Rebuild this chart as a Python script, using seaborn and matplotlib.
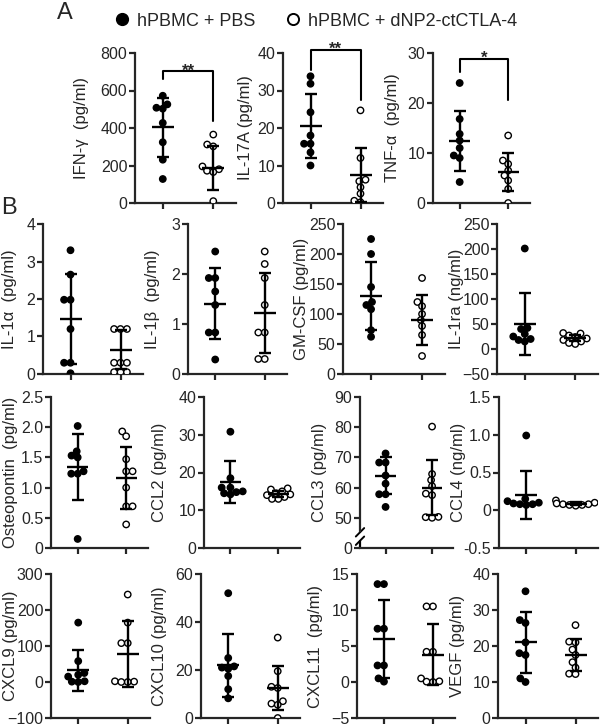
import matplotlib
matplotlib.use("Agg")
import matplotlib.pyplot as plt
import seaborn as sns
import pandas as pd
from matplotlib.lines import Line2D

# Cytokine levels: hPBMC + PBS vs hPBMC + dNP2-ctCTLA-4

groups = ['hPBMC + PBS', 'hPBMC + dNP2-ctCTLA-4']

# Panel A
ifng_pbs = [572, 526, 508, 503, 427, 324, 231, 128]
ifng_np2 = [365, 312, 302, 195, 180, 172, 165, 10]
ifng_mean = [403, 188]
ifng_sd = [156, 118]
ifng_sig = [664, 705, 437]

il17a_pbs = [33.8, 31.8, 24.2, 18, 15.8, 15.8, 13.5, 10]
il17a_np2 = [24.7, 12, 6.2, 5.8, 4.2, 2.5, 0.6, 0.2]
il17a_mean = [20.5, 7.5]
il17a_sd = [8.5, 7.2]
il17a_sig = [35.4, 40.9, 27.5]

tnfa_pbs = [24, 16.8, 13.8, 12.5, 11, 9.5, 9, 4.2]
tnfa_np2 = [13.5, 8.5, 7.8, 6.5, 5.5, 4.5, 2.8, 0]
tnfa_mean = [12.4, 6.2]
tnfa_sd = [6.0, 3.8]
tnfa_sig = [26.2, 28.9, 20.7]

# Panel B
il1a_pbs = [3.3, 2.65, 1.98, 1.98, 1.2, 0.3, 0.3, 0.02]
il1a_np2 = [1.2, 1.2, 1.2, 0.3, 0.3, 0.3, 0.05, 0.05, 0.05]
il1a_mean = [1.47, 0.65]
il1a_sd = [1.21, 0.51]

il1b_pbs = [2.45, 1.92, 1.92, 1.65, 1.38, 0.83, 0.83, 0.29]
il1b_np2 = [2.45, 2.2, 1.92, 1.38, 0.83, 0.83, 0.3, 0.3]
il1b_mean = [1.41, 1.22]
il1b_sd = [0.71, 0.81]

gmcsf_pbs = [225, 200, 145, 120, 115, 108, 73, 62]
gmcsf_np2 = [160, 120, 113, 100, 90, 80, 65, 30]
gmcsf_mean = [130, 90]
gmcsf_sd = [57, 41]

il1ra_pbs = [201, 42, 40, 30, 25, 20, 18, 15]
il1ra_np2 = [32, 31, 27, 24, 21, 18, 15, 12, 10]
il1ra_mean = [50, 22]
il1ra_sd = [62, 6]

opn_pbs = [2.02, 1.6, 1.53, 1.5, 1.27, 1.23, 1.23, 0.15]
opn_np2 = [1.93, 1.85, 1.47, 1.27, 1.27, 1.0, 0.69, 0.69, 0.39]
opn_mean = [1.34, 1.16]
opn_sd = [0.54, 0.52]

ccl2_pbs = [30.8, 18.5, 16, 16, 15, 14.8, 14.5, 14.2]
ccl2_np2 = [15.8, 15.5, 15, 14.5, 14.2, 14, 13.5, 13, 13]
ccl2_mean = [17.5, 14.3]
ccl2_sd = [5.6, 0.9]

ccl3_pbs = [71.3, 68.3, 68.3, 64, 61.3, 57.8, 57.8, 53.6]
ccl3_np2 = [80.2, 64.5, 62.5, 60.5, 58, 57.5, 50.3, 50.2, 50]
ccl3_mean = [63.9, 60]
ccl3_sd = [6.1, 9.2]

ccl4_pbs = [0.99, 0.15, 0.12, 0.1, 0.09, 0.08, 0.08, 0.07]
ccl4_np2 = [0.13, 0.1, 0.09, 0.08, 0.08, 0.07, 0.07, 0.06]
ccl4_mean = [0.2, 0.085]
ccl4_sd = [0.32, 0.02]

cxcl9_pbs = [165, 58, 25, 20, 15, 2, 1, 0]
cxcl9_np2 = [243, 165, 108, 108, 2, 1, 0, 0]
cxcl9_mean = [33, 78]
cxcl9_sd = [57, 92]

cxcl10_pbs = [52, 25, 21.5, 21, 20.5, 17.5, 12, 8.2]
cxcl10_np2 = [33.5, 19.5, 13, 12.5, 7, 6, 5.5, 0]
cxcl10_mean = [22, 12.5]
cxcl10_sd = [13.2, 9.2]

cxcl11_pbs = [13.6, 13.6, 7.4, 7.4, 2.3, 2.3, 0.5, 0.05]
cxcl11_np2 = [10.5, 10.5, 4.2, 4.2, 0.5, 0.1, 0.05, 0]
cxcl11_mean = [6, 3.8]
cxcl11_sd = [5.4, 4.2]

vegf_pbs = [35.2, 27.2, 26.4, 21, 18, 17.5, 11, 10]
vegf_np2 = [25.8, 21.2, 21, 19, 17.5, 15.5, 14, 12.3, 12.2]
vegf_mean = [21, 17.5]
vegf_sd = [8.5, 4.5]

# label, data, ticks, tick labels, significance,
# axes box in pixels (left, right, top, bottom, right edge of y-label)
panels = [
    ('IFN-γ  (pg/ml)', ifng_pbs, ifng_np2, ifng_mean, ifng_sd,
     [0, 200, 400, 600, 800], None, (ifng_sig, '**'), (135, 236, 53, 203, 89)),
    ('IL-17A (pg/ml)', il17a_pbs, il17a_np2, il17a_mean, il17a_sd,
     [0, 10, 20, 30, 40], None, (il17a_sig, '**'), (283, 383, 53, 203, 253)),
    ('TNF-α  (pg/ml)', tnfa_pbs, tnfa_np2, tnfa_mean, tnfa_sd,
     [0, 10, 20, 30], None, (tnfa_sig, '*'), (433, 530, 53, 203, 400)),
    ('IL-1α  (pg/ml)', il1a_pbs, il1a_np2, il1a_mean, il1a_sd,
     [0, 1, 2, 3, 4], None, None, (43, 143, 224, 374, 17)),
    ('IL-1β  (pg/ml)', il1b_pbs, il1b_np2, il1b_mean, il1b_sd,
     [0, 1, 2, 3], None, None, (188, 287, 224, 374, 160)),
    ('GM-CSF (pg/ml)', gmcsf_pbs, gmcsf_np2, gmcsf_mean, gmcsf_sd,
     [0, 50, 100, 150, 200, 250], None, None, (343, 445, 224, 374, 309)),
    ('IL-1ra (ng/ml)', il1ra_pbs, il1ra_np2, il1ra_mean, il1ra_sd,
     [-50, 0, 50, 100, 150, 200, 250], None, None, (497, 598, 224, 374, 464)),
    ('Osteopontin  (pg/ml)', opn_pbs, opn_np2, opn_mean, opn_sd,
     [0, 0.5, 1.0, 1.5, 2.0, 2.5], ['0', '0.5', '1.0', '1.5', '2.0', '2.5'], None,
     (51, 148, 397, 548, 18)),
    ('CCL2 (pg/ml)', ccl2_pbs, ccl2_np2, ccl2_mean, ccl2_sd,
     [0, 10, 20, 30, 40], None, None, (204, 300, 397, 548, 167)),
    ('CCL3 (pg/ml)', ccl3_pbs, ccl3_np2, ccl3_mean, ccl3_sd,
     [40, 50, 60, 70, 80, 90], ['0', '50', '60', '70', '80', '90'], None,
     (360, 453, 397, 548, 327)),
    ('CCL4 (ng/ml)', ccl4_pbs, ccl4_np2, ccl4_mean, ccl4_sd,
     [-0.5, 0, 0.5, 1.0, 1.5], ['-0.5', '0', '0.5', '1.0', '1.5'], None,
     (499, 598, 397, 548, 466)),
    ('CXCL9 (pg/ml)', cxcl9_pbs, cxcl9_np2, cxcl9_mean, cxcl9_sd,
     [-100, 0, 100, 200, 300], None, None, (51, 150, 574, 718, 18)),
    ('CXCL10 (pg/ml)', cxcl10_pbs, cxcl10_np2, cxcl10_mean, cxcl10_sd,
     [0, 20, 40, 60], None, None, (201, 300, 574, 718, 167)),
    ('CXCL11  (pg/ml)', cxcl11_pbs, cxcl11_np2, cxcl11_mean, cxcl11_sd,
     [-5, 0, 5, 10, 15], None, None, (357, 455, 574, 718, 323)),
    ('VEGF (pg/ml)', vegf_pbs, vegf_np2, vegf_mean, vegf_sd,
     [0, 10, 20, 30, 40], None, None, (498, 598, 574, 718, 465)),
]

sns.set_style("ticks")
plt.rcParams['font.family'] = ['Liberation Sans', 'DejaVu Sans']
plt.rcParams['axes.linewidth'] = 1.6

W, H = 600, 728
fig = plt.figure(figsize=(W / 100, H / 100), dpi=100)
swarms = []

for label, pbs, np2, mean, sd, ticks, ticklabels, sig, box in panels:
    l, r, t, b, lx = box
    ax = fig.add_axes([l / W, 1 - b / H, (r - l) / W, (b - t) / H])

    df = pd.DataFrame({'group': [groups[0]] * len(pbs) + [groups[1]] * len(np2),
                       'value': pbs + np2})
    sns.swarmplot(data=df, x='group', y='value', hue='group', order=groups,
                  hue_order=groups, palette=['black', 'white'], edgecolor='black',
                  linewidth=1.0, size=3.4, legend=False, ax=ax, zorder=3)
    swarms += list(ax.collections)

    # mean and SD
    ax.errorbar([0, 1], mean, yerr=sd, fmt='none', ecolor='black',
                elinewidth=1.7, capsize=4.2, capthick=1.7, zorder=4)
    ax.hlines(mean, [-0.22, 0.78], [0.22, 1.22], color='black', lw=1.7, zorder=4)

    ax.set_xlim(-0.55, 1.45)
    ax.set_ylim(ticks[0], ticks[-1])
    ax.set_yticks(ticks)
    if ticklabels:
        ax.set_yticklabels(ticklabels)
    ax.set_xticks([0, 1])
    ax.set_xticklabels(['', ''])
    ax.set_xlabel('')
    ax.set_ylabel(label, fontsize=12)
    ax.yaxis.set_label_coords((lx - l) / (r - l), 0.5)
    ax.tick_params(direction='out', length=4, width=1.6, labelsize=11.5, pad=1.5)
    sns.despine(ax=ax)

    if sig is not None:
        (y_left, y_top, y_right), stars = sig
        ax.plot([0, 0, 1, 1], [y_left, y_top, y_top, y_right], color='black',
                lw=1.5, clip_on=False)
        ax.text(0.5, y_top, stars, ha='center', va='center', fontsize=12,
                fontweight='bold')

    if label.startswith('CCL3'):
        # broken axis between 0 and 50
        ax.spines['left'].set_bounds(45.5, 90)
        tr = ax.get_yaxis_transform()
        ax.plot([0, 0], [40, 42.3], color='black', lw=1.6, transform=tr, clip_on=False)
        ax.plot([-0.045, 0.045], [43.8, 46.6], color='black', lw=1.4, transform=tr, clip_on=False)
        ax.plot([-0.045, 0.045], [41.0, 43.8], color='black', lw=1.4, transform=tr, clip_on=False)

# legend on top
handles = [Line2D([], [], marker='o', ls='', markersize=8.5, markerfacecolor='black',
                  markeredgecolor='black'),
           Line2D([], [], marker='o', ls='', markersize=8, markerfacecolor='white',
                  markeredgecolor='black', markeredgewidth=1.4)]
fig.legend(handles=handles, labels=groups, loc='center', bbox_to_anchor=(0.525, 1 - 21 / H),
           ncol=2, frameon=False, fontsize=13, handletextpad=0.3, columnspacing=1.6,
           handlelength=1.0)

fig.text(57 / W, 1 - 13 / H, 'A', fontsize=17, va='center', ha='left')
fig.text(1 / W, 1 - 208 / H, 'B', fontsize=17, va='center', ha='left')

# lay out the swarms with small dots, then freeze them and draw bigger, overlapping dots
fig.canvas.draw()
for coll in swarms:
    if 'draw' in coll.__dict__:
        del coll.draw
    coll.set_sizes([4.6 ** 2])

fig.savefig('out.png', dpi=100)
